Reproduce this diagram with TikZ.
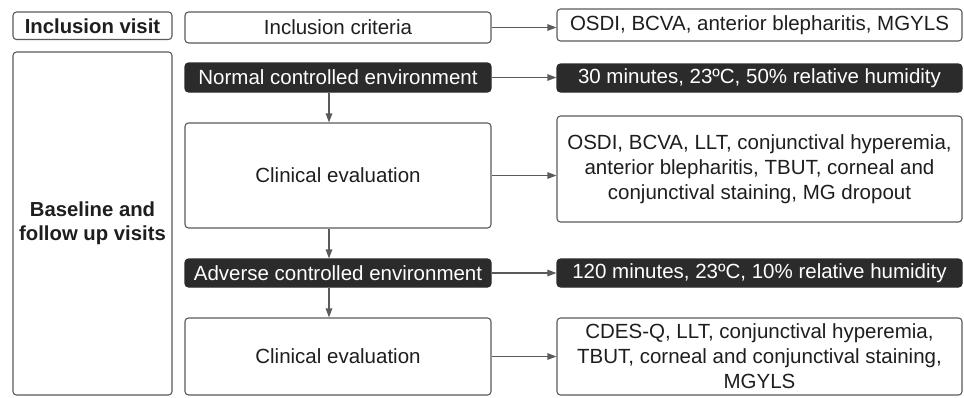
\documentclass[tikz,border=0pt]{standalone}
\usepackage{fontspec}
\setmainfont{Liberation Sans}
\usetikzlibrary{arrows.meta}
\definecolor{lineg}{HTML}{5A5A5A}
\definecolor{darkf}{HTML}{2B2B2B}
\definecolor{txt}{HTML}{1E1E1E}
\tikzset{
  box/.style={draw=lineg, line width=1.1pt, rounded corners=3.5pt, fill=white, inner sep=0pt, align=center, text=txt, font=\fontsize{20.5}{25}\selectfont},
  darkbox/.style={box, fill=darkf, draw=darkf, text=white},
  lbl/.style={box, font=\fontsize{20.3}{24}\selectfont\bfseries},
  conn/.style={draw=lineg, line width=1.1pt, -{Triangle[length=9pt,width=6.5pt]}}
}
\begin{document}
\begin{tikzpicture}[x=1pt,y=-1pt]
\useasboundingbox (0,0) rectangle (964,397);
% left labels
\node[lbl, minimum width=159pt, minimum height=27.5pt] (incv) at (92.5,25.75) {Inclusion visit};
\node[lbl, minimum width=159pt, minimum height=343pt] (base) at (92.5,223.5) {Baseline and\\follow up visits};
% middle column
\node[box, minimum width=306pt, minimum height=31pt] (incc) at (338,27.5) {Inclusion criteria};
\node[darkbox, minimum width=306pt, minimum height=29pt] (norm) at (338,77.5) {Normal controlled environment};
\node[box, minimum width=306pt, minimum height=105pt] (ce1) at (338,175.5) {Clinical evaluation};
\node[darkbox, minimum width=306pt, minimum height=28pt] (adv) at (338,273) {Adverse controlled environment};
\node[box, minimum width=306pt, minimum height=77pt] (ce2) at (338,356.5) {Clinical evaluation};
% right column
\node[box, minimum width=405pt, minimum height=32pt] (r1) at (759.5,25) {OSDI, BCVA, anterior blepharitis, MGYLS};
\node[darkbox, minimum width=405pt, minimum height=28pt] (r2) at (759.5,78) {30 minutes, 23ºC, 50\% relative humidity};
\node[box, minimum width=405pt, minimum height=106pt] (r3) at (759.5,169) {OSDI, BCVA, LLT, conjunctival hyperemia,\\anterior blepharitis, TBUT, corneal and\\conjunctival staining, MG dropout};
\node[darkbox, minimum width=405pt, minimum height=28pt] (r4) at (759.5,273) {120 minutes, 23ºC, 10\% relative humidity};
\node[box, minimum width=405pt, minimum height=77pt] (r5) at (759.5,356.5) {CDES-Q, LLT, conjunctival hyperemia,\\TBUT, corneal and conjunctival staining,\\MGYLS};
% connectors
\coordinate (vx) at (329,0);
\draw[conn] (incc.east) -- (incc.east -| r1.west);
\draw[conn] (norm.east) -- (norm.east -| r2.west);
\draw[conn] (ce1.east) -- (ce1.east -| r3.west);
\draw[conn] (adv.east) -- (adv.east -| r4.west);
\draw[conn] (ce2.east) -- (ce2.east -| r5.west);
\draw[conn] (norm.south -| vx) -- (ce1.north -| vx);
\draw[conn] (ce1.south -| vx) -- (adv.north -| vx);
\draw[conn] (adv.south -| vx) -- (ce2.north -| vx);
\end{tikzpicture}
\end{document}
